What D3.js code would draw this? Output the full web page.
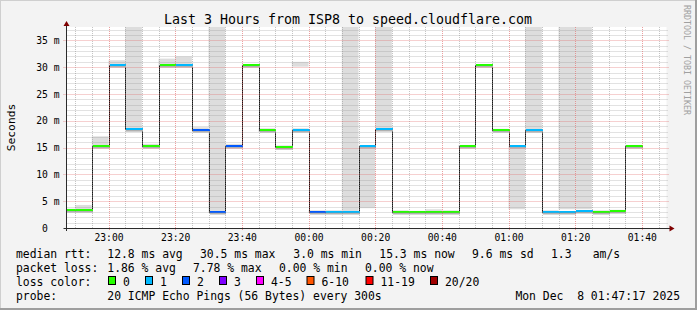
<!DOCTYPE html>
<html>
<head>
<meta charset="utf-8">
<script src="https://cdn.jsdelivr.net/npm/d3@7"></script>
<style>
body { margin: 0; background: #fff; }
text { font-family: "DejaVu Sans Mono", monospace; white-space: pre; }
</style>
</head>
<body>
<div id="chart-area"></div>
<script>
// one entry per 5 min rrd step (start of step), rtt values in ms
let stepTimes = ["22:45","22:50","22:55","23:00","23:05","23:10","23:15","23:20","23:25","23:30",
                 "23:35","23:40","23:45","23:50","23:55","00:00","00:05","00:10","00:15","00:20",
                 "00:25","00:30","00:35","00:40","00:45","00:50","00:55","01:00","01:05","01:10",
                 "01:15","01:20","01:25","01:30","01:35"];
let medianMs = [3.3, 3.3, 15.3, 30.4, 18.4, 15.3, 30.4, 30.4, 18.3, 3.0,
                15.3, 30.4, 18.3, 15.2, 18.3, 3.0, 3.0, 3.0, 15.3, 18.4,
                3.0, 3.0, 3.0, 3.0, 15.3, 30.4, 18.3, 15.3, 18.3, 3.0,
                3.0, 3.1, 3.0, 3.2, 15.3];
let lostPings = [0, 0, 0, 1, 1, 0, 0, 1, 2, 2,
                 2, 0, 0, 0, 1, 2, 1, 1, 1, 1,
                 0, 0, 0, 0, 0, 0, 0, 1, 1, 1,
                 1, 1, 0, 0, 0];
// grey smoke, [low, high] pairs per step (99 = off the top)
let smokeBands = [
  [[3.0, 3.6]], [[3.0, 4.3]], [[15.0, 17.1]], [[30.0, 31.3]], [[18.0, 99]],
  [[15.0, 15.7]], [[30.0, 31.6]], [[30.0, 32.0]], [[18.0, 18.8]], [[2.8, 99]],
  [[15.0, 15.7]], [[30.0, 30.6]], [[17.9, 18.6]], [[14.6, 15.4]], [[18.0, 18.6], [30.1, 31.0]],
  [[2.8, 3.3]], [[2.8, 3.3]], [[3.0, 99]], [[3.7, 15.3]], [[18.4, 99]],
  [[2.8, 3.3]], [[2.8, 3.2]], [[2.8, 3.5]], [[2.8, 3.3]], [[15.0, 15.5]],
  [[30.0, 30.6]], [[18.0, 18.5]], [[3.5, 15.3]], [[18.3, 99]], [[2.8, 3.3]],
  [[3.5, 99]], [[3.5, 99]], [[2.8, 3.3]], [[2.9, 3.4]], [[15.0, 15.5]]
];

let yTicks = [0, 5, 10, 15, 20, 25, 30, 35];
let xTickLabels = ["23:00","23:20","23:40","00:00","00:20","00:40","01:00","01:20","01:40"];

let lossLabels = ["0","1","2","3","4-5","6-10","11-19","20/20"];
let lossColors = ["#26ff00","#00b8ff","#0059ff","#7e00ff","#ff00ff","#ff5500","#ff0000","#a00000"];
let rttRow = ["median rtt:", "12.8 ms avg", "30.5 ms max", "3.0 ms min", "15.3 ms now", "9.6 ms sd", "1.3", "am/s"];
let lossRow = ["packet loss:", "1.86 % avg", "7.78 % max", "0.00 % min", "0.00 % now"];
let probeRow = ["probe:", "20 ICMP Echo Pings (56 Bytes) every 300s"];
let stamp = "Mon Dec  8 01:47:17 2025";
let title = "Last 3 Hours from ISP8 to speed.cloudflare.com";

// layout
let W = 697, H = 310;
let plotLeft = 66.5, plotRight = 666.5, plotTop = 27, plotBottom = 228;
let rttX = [16, 107.3, 200, 293.3, 379.3, 472, 551, 592.7];
let lossX = [16, 107.3, 193, 279, 365];
let boxX = [108.5, 145.5, 182.5, 219.5, 256.5, 307, 366, 430.5];
let probeX = [16, 107.3];

function toDate(hm) {
    let p = hm.split(":").map(Number);
    let day = p[0] < 12 ? 8 : 7;
    return new Date(2025, 11, day, p[0], p[1], 0);
}
let startTime = new Date(2025, 11, 7, 22, 47, 24);
let endTime = new Date(2025, 11, 8, 1, 47, 24);

let steps = stepTimes.map((t, i) => {
    let t0 = toDate(t);
    return {t0: t0, t1: new Date(+t0 + 300000), med: medianMs[i], loss: lostPings[i], smoke: smokeBands[i]};
});

function lossColor(n) {
    if (n <= 3) return lossColors[n];
    if (n <= 5) return lossColors[4];
    if (n <= 10) return lossColors[5];
    if (n <= 19) return lossColors[6];
    return lossColors[7];
}

const svg = d3.select("#chart-area").append("svg")
    .attr("width", W)
    .attr("height", H);

// background + 3d border
svg.append("rect").attr("width", W).attr("height", H).attr("fill", "#f3f3f3");
svg.append("path").attr("d", `M0,${H} V0 H${W}`).attr("fill", "none").attr("stroke", "#cfcfcf").attr("stroke-width", 2);
svg.append("path").attr("d", `M0,${H - 1} H${W - 1} V0`).attr("fill", "none").attr("stroke", "#9e9e9e").attr("stroke-width", 2);

svg.append("rect")
    .attr("x", plotLeft).attr("y", plotTop)
    .attr("width", plotRight - plotLeft).attr("height", plotBottom - plotTop)
    .attr("fill", "#ffffff");

const x = d3.scaleTime().domain([startTime, endTime]).range([plotLeft, plotRight]);
const y = d3.scaleLinear().domain([0, 37.5]).range([plotBottom, plotTop]);

svg.append("clipPath").attr("id", "clip")
    .append("rect")
    .attr("x", plotLeft).attr("y", plotTop)
    .attr("width", plotRight - plotLeft).attr("height", plotBottom - plotTop);

const plot = svg.append("g").attr("clip-path", "url(#clip)");

// smoke
let bands = [];
steps.forEach(s => s.smoke.forEach(b => bands.push({t0: s.t0, t1: s.t1, lo: b[0], hi: b[1]})));
plot.selectAll("rect.smoke").data(bands).enter().append("rect")
    .attr("class", "smoke")
    .attr("x", d => x(d.t0))
    .attr("width", d => x(d.t1) - x(d.t0))
    .attr("y", d => y(Math.min(d.hi, 37.5)))
    .attr("height", d => y(d.lo) - y(Math.min(d.hi, 37.5)))
    .attr("fill", "#dddddd");

// grid
let minorTimes = d3.timeMinute.every(5).range(startTime, endTime);
let majorTimes = d3.timeMinute.every(20).range(startTime, endTime);
let minorMs = d3.range(1, 38).filter(v => v % 5 != 0);

const grid = svg.append("g");
grid.selectAll("line.vmin").data(minorTimes.filter(t => t.getMinutes() % 20 != 0)).enter().append("line")
    .attr("x1", d => Math.round(x(d)) + 0.5).attr("x2", d => Math.round(x(d)) + 0.5)
    .attr("y1", plotTop).attr("y2", plotBottom)
    .attr("stroke", "#8c8c8c").attr("stroke-opacity", 0.5).attr("stroke-dasharray", "1,1");
grid.selectAll("line.hmin").data(minorMs).enter().append("line")
    .attr("x1", plotLeft).attr("x2", plotRight + 2)
    .attr("y1", d => Math.round(y(d)) + 0.5).attr("y2", d => Math.round(y(d)) + 0.5)
    .attr("stroke", "#8c8c8c").attr("stroke-opacity", 0.5).attr("stroke-dasharray", "1,1");
grid.selectAll("line.vmaj").data(majorTimes).enter().append("line")
    .attr("x1", d => Math.round(x(d)) + 0.5).attr("x2", d => Math.round(x(d)) + 0.5)
    .attr("y1", plotTop).attr("y2", plotBottom + 2)
    .attr("stroke", "#e06060").attr("stroke-opacity", 0.6).attr("stroke-dasharray", "1,1");
grid.selectAll("line.hmaj").data(yTicks.slice(1)).enter().append("line")
    .attr("x1", plotLeft - 3).attr("x2", plotRight + 2)
    .attr("y1", d => Math.round(y(d)) + 0.5).attr("y2", d => Math.round(y(d)) + 0.5)
    .attr("stroke", "#e06060").attr("stroke-opacity", 0.6).attr("stroke-dasharray", "1,1");

// median step line
let linePts = steps.map(s => [s.t0, s.med]);
linePts.push([steps[steps.length - 1].t1, steps[steps.length - 1].med]);
plot.append("path")
    .datum(linePts)
    .attr("fill", "none")
    .attr("stroke", "#1a1a1a")
    .attr("stroke-width", 1)
    .attr("d", d3.line().curve(d3.curveStepAfter).x(d => Math.round(x(d[0])) + 0.5).y(d => Math.round(y(d[1])) + 0.5));

// dense smoke just under the median
plot.selectAll("rect.core").data(steps).enter().append("rect")
    .attr("x", d => Math.round(x(d.t0)) + 1)
    .attr("width", d => Math.round(x(d.t1)) - Math.round(x(d.t0)))
    .attr("y", d => Math.round(y(d.med)) + 1)
    .attr("height", 1.5)
    .attr("fill", "#b0b0b0");

// loss coloured median
plot.selectAll("rect.med").data(steps).enter().append("rect")
    .attr("x", d => Math.round(x(d.t0)) + 1)
    .attr("width", d => Math.round(x(d.t1)) - Math.round(x(d.t0)))
    .attr("y", d => Math.round(y(d.med)) - 1)
    .attr("height", 2)
    .attr("fill", d => lossColor(d.loss));

// axes
const axisCol = "#2b2b2b";
svg.append("line").attr("x1", plotLeft - 3).attr("x2", plotRight + 4)
    .attr("y1", plotBottom + 0.5).attr("y2", plotBottom + 0.5).attr("stroke", axisCol);
svg.append("line").attr("x1", plotLeft).attr("x2", plotLeft)
    .attr("y1", plotBottom + 3).attr("y2", plotTop - 2).attr("stroke", axisCol);
svg.append("path").attr("d", `M${plotRight + 3},${plotBottom - 2.5} L${plotRight + 8},${plotBottom + 0.5} L${plotRight + 3},${plotBottom + 3.5} Z`).attr("fill", "#7f0000");
svg.append("path").attr("d", `M${plotLeft - 3},${plotTop - 1} L${plotLeft},${plotTop - 6} L${plotLeft + 3},${plotTop - 1} Z`).attr("fill", "#7f0000");

const xAxis = d3.axisBottom(x)
    .tickValues(xTickLabels.map(toDate))
    .tickFormat(d3.timeFormat("%H:%M"))
    .tickSize(0).tickPadding(6);
const xg = svg.append("g").attr("transform", `translate(0, ${plotBottom})`).call(xAxis);
xg.select(".domain").remove();
xg.selectAll("text").attr("font-family", "DejaVu Sans Mono").attr("font-size", "9.7px").attr("fill", "#000").attr("dy", "0.75em");

const yAxis = d3.axisLeft(y)
    .tickValues(yTicks)
    .tickFormat(d => d == 0 ? "0  " : d + " m")
    .tickSize(0).tickPadding(7);
const yg = svg.append("g").attr("transform", `translate(${plotLeft}, 0)`).call(yAxis);
yg.select(".domain").remove();
yg.selectAll("text").attr("font-family", "DejaVu Sans Mono").attr("font-size", "9.7px").attr("fill", "#000");

// titles
svg.append("text").attr("x", 348).attr("y", 24)
    .attr("text-anchor", "middle").attr("font-size", "13.3px").attr("fill", "#000").text(title);
svg.append("text")
    .attr("x", -(plotTop + plotBottom) / 2).attr("y", 15)
    .attr("transform", "rotate(-90)")
    .attr("text-anchor", "middle").attr("font-size", "11.3px").attr("fill", "#000").text("Seconds");
svg.append("text")
    .attr("transform", "translate(684, 5) rotate(90)")
    .attr("font-size", "8.3px").attr("fill", "#a0a0a0").text("RRDTOOL / TOBI OETIKER");

// legend
const legend = svg.append("g").attr("font-size", "11.4px").attr("fill", "#000");
legend.selectAll("text.rtt").data(rttRow).enter().append("text")
    .attr("x", (d, i) => rttX[i]).attr("y", 257.5).text(d => d);
legend.selectAll("text.loss").data(lossRow).enter().append("text")
    .attr("x", (d, i) => lossX[i]).attr("y", 271.5).text(d => d);
legend.append("text").attr("x", 16).attr("y", 285.5).text("loss color:");
legend.selectAll("rect.box").data(lossColors).enter().append("rect")
    .attr("x", (d, i) => boxX[i]).attr("y", 276.5)
    .attr("width", 7).attr("height", 8)
    .attr("fill", d => d).attr("stroke", "#000").attr("stroke-width", 1);
legend.selectAll("text.lab").data(lossLabels).enter().append("text")
    .attr("x", (d, i) => boxX[i] + 14.5).attr("y", 285.5).text(d => d);
legend.selectAll("text.probe").data(probeRow).enter().append("text")
    .attr("x", (d, i) => probeX[i]).attr("y", 299.5).text(d => d);
legend.append("text").attr("x", 680).attr("y", 299.5).attr("text-anchor", "end").text(stamp);
</script>
</body>
</html>
